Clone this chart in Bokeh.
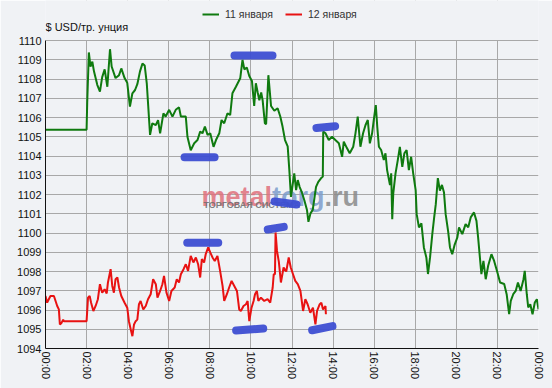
from bokeh.plotting import figure
from bokeh.models import (Range1d, FixedTicker, Legend, LegendItem, Label,
                          ColumnDataSource, BoxAnnotation)
from bokeh.embed import file_html
from bokeh.resources import INLINE

# ---- data -------------------------------------------------------------
series_names = ["11 января", "12 января"]
y_title = "$ USD/тр. унция"
x_ticks = [0, 2, 4, 6, 8, 10, 12, 14, 16, 18, 20, 22, 24]
x_tick_labels = ["00:00", "02:00", "04:00", "06:00", "08:00", "10:00", "12:00",
                 "14:00", "16:00", "18:00", "20:00", "22:00", "00:00"]
y_ticks = list(range(1094, 1111))

jan11_time = [0, 2.0, 2.03, 2.11, 2.19, 2.28, 2.36, 2.52, 2.65, 2.76, 2.88, 3.01, 3.14, 3.22,
              3.41, 3.58, 3.69, 3.85, 3.98, 4.11, 4.23, 4.36, 4.47, 4.6, 4.72, 4.83, 4.93,
              5.09, 5.2, 5.37, 5.48, 5.58, 5.74, 5.85, 6.02, 6.18, 6.34, 6.5, 6.59, 6.83,
              6.91, 7.07, 7.24, 7.4, 7.53, 7.64, 7.76, 7.89, 8.02, 8.18, 8.3, 8.46, 8.57,
              8.7, 8.86, 8.99, 9.1, 9.27, 9.48, 9.59, 9.68, 9.8, 9.92, 10.05, 10.16, 10.24,
              10.33, 10.41, 10.5, 10.57, 10.68, 10.74, 10.85, 10.98, 11.14, 11.3, 11.43,
              11.54, 11.66, 11.79, 11.87, 11.95, 12.03, 12.11, 12.2, 12.28, 12.37, 12.47,
              12.6, 12.73, 12.8, 12.9, 13.01, 13.09, 13.17, 13.28, 13.41, 13.5, 13.52,
              13.63, 13.79, 13.95, 14.11, 14.28, 14.44, 14.52, 14.68, 14.81, 14.98, 15.09,
              15.2, 15.33, 15.46, 15.58, 15.69, 15.79, 15.9, 15.98, 16.08, 16.15, 16.23,
              16.34, 16.47, 16.55, 16.63, 16.77, 16.83, 16.88, 16.93, 17.04, 17.15, 17.25,
              17.37, 17.47, 17.58, 17.69, 17.8, 17.9, 18.02, 18.07, 18.18, 18.3, 18.42,
              18.54, 18.62, 18.72, 18.83, 18.92, 19.0, 19.1, 19.2, 19.3, 19.4, 19.48,
              19.6, 19.69, 19.8, 19.92, 20.05, 20.13, 20.29, 20.45, 20.58, 20.7, 20.86,
              20.98, 21.06, 21.14, 21.22, 21.32, 21.43, 21.55, 21.71, 21.84, 22.0, 22.13,
              22.33, 22.45, 22.57, 22.65, 22.77, 22.89, 23.0, 23.13, 23.27, 23.33, 23.43,
              23.5, 23.6, 23.71, 23.82, 23.92, 24.0]
jan11_price = [1105.37, 1105.37, 1106.74, 1109.38, 1108.65, 1108.9, 1108.4, 1107.7, 1107.35,
               1108.1, 1108.5, 1107.6, 1109.55, 1108.65, 1108.05, 1108.2, 1108.55, 1108.05,
               1107.8, 1106.57, 1107.26, 1107.43, 1107.73, 1108.4, 1108.8, 1108.7, 1107.78,
               1105.1, 1105.7, 1105.6, 1105.87, 1105.18, 1106.22, 1106.05, 1106.4, 1106.05,
               1106.4, 1106.53, 1106.05, 1106.05, 1105.0, 1104.3, 1104.66, 1104.83, 1105.27,
               1105.18, 1105.53, 1105.1, 1105.18, 1104.48, 1104.83, 1105.18, 1105.87, 1105.7,
               1106.22, 1106.13, 1107.26, 1107.6, 1108.04, 1109.0, 1108.5, 1108.6, 1108.16,
               1107.9, 1106.6, 1107.78, 1107.3, 1106.9, 1107.3, 1106.9, 1105.7, 1105.65,
               1108.2, 1106.6, 1106.35, 1106.48, 1106.05, 1105.53, 1104.83, 1104.5, 1103.27,
               1101.88, 1102.5, 1103.1, 1102.23, 1102.75, 1102.4, 1102.14, 1101.7, 1101.19,
               1100.58, 1101.02, 1101.2, 1101.8, 1102.4, 1102.66, 1102.84, 1102.93, 1105.27,
               1105.18, 1104.83, 1105.0, 1104.83, 1104.66, 1103.96, 1104.75, 1104.4, 1104.14,
               1104.48, 1105.18, 1106.05, 1104.48, 1105.18, 1105.61, 1105.87, 1104.66,
               1105.18, 1105.87, 1106.65, 1105.53, 1104.48, 1104.31, 1103.79, 1104.14,
               1103.27, 1102.49, 1103.1, 1100.72, 1102.06, 1103.1, 1103.79, 1104.48, 1103.44,
               1104.14, 1104.31, 1103.27, 1103.96, 1103.1, 1102.23, 1100.98, 1100.29, 1100.5,
               1099.25, 1098.73, 1097.87, 1098.73, 1099.94, 1100.8, 1101.5, 1102.85, 1102.2,
               1102.5, 1102.1, 1100.98, 1100.1, 1099.25, 1098.9, 1099.4, 1099.77, 1100.29,
               1099.94, 1100.46, 1100.3, 1100.81, 1101.07, 1100.63, 1099.77, 1098.81,
               1097.86, 1098.55, 1097.6, 1098.3, 1098.9, 1098.55, 1097.95, 1097.43, 1097.35,
               1096.82, 1095.78, 1096.47, 1096.82, 1096.99, 1097.43, 1096.99, 1097.6,
               1098.03, 1096.82, 1096.13, 1096.3, 1095.78, 1096.39, 1096.56, 1096.04]

jan12_time = [0, 0.08, 0.16, 0.24, 0.41, 0.49, 0.57, 0.65, 0.7, 0.78, 0.86, 0.89, 2.0, 2.07,
              2.15, 2.22, 2.33, 2.44, 2.55, 2.65, 2.76, 2.88, 2.98, 3.04, 3.17, 3.25, 3.33,
              3.41, 3.5, 3.58, 3.69, 3.85, 3.98, 4.06, 4.15, 4.23, 4.31, 4.39, 4.47, 4.55,
              4.63, 4.76, 4.88, 4.99, 5.12, 5.24, 5.37, 5.45, 5.58, 5.69, 5.77, 5.89, 6.02,
              6.13, 6.29, 6.39, 6.5, 6.59, 6.72, 6.83, 6.94, 7.07, 7.2, 7.32, 7.43, 7.53,
              7.61, 7.72, 7.8, 7.92, 8.02, 8.13, 8.24, 8.37, 8.5, 8.62, 8.7, 8.83, 8.94,
              9.06, 9.19, 9.32, 9.43, 9.51, 9.64, 9.76, 9.84, 9.92, 10.03, 10.13, 10.2,
              10.29, 10.36, 10.49, 10.65, 10.81, 10.94, 11.06, 11.11, 11.17, 11.2, 11.27,
              11.36, 11.46, 11.59, 11.72, 11.84, 11.94, 12.05, 12.16, 12.28, 12.41, 12.54,
              12.65, 12.76, 12.89, 13.02, 13.14, 13.22, 13.35, 13.43, 13.51, 13.63, 13.65]
jan12_price = [1096.73, 1096.38, 1096.56, 1096.73, 1096.73, 1096.47, 1096.21, 1096.03,
               1095.25, 1095.33, 1095.5, 1095.42, 1095.42, 1096.64, 1096.73, 1096.38,
               1095.95, 1096.21, 1096.56, 1097.34, 1096.9, 1097.08, 1096.86, 1097.43,
               1098.12, 1097.25, 1096.9, 1097.6, 1097.69, 1097.17, 1096.73, 1096.38,
               1096.12, 1095.42, 1094.99, 1094.64, 1095.25, 1095.42, 1095.5, 1096.3,
               1096.47, 1096.03, 1096.21, 1096.56, 1096.82, 1097.6, 1097.34, 1096.64,
               1096.99, 1097.34, 1097.77, 1096.9, 1096.47, 1096.99, 1097.17, 1097.6,
               1097.43, 1097.86, 1098.12, 1098.38, 1098.03, 1098.81, 1098.47, 1098.73,
               1098.38, 1097.69, 1098.64, 1098.47, 1098.9, 1099.25, 1098.99, 1098.73,
               1098.55, 1098.81, 1098.03, 1097.25, 1096.47, 1096.82, 1097.17, 1097.51,
               1097.25, 1096.99, 1096.03, 1095.95, 1096.21, 1096.3, 1096.47, 1095.42,
               1096.12, 1096.47, 1096.82, 1096.99, 1096.47, 1096.64, 1096.47, 1096.56,
               1096.38, 1097.17, 1097.86, 1097.86, 1100.03, 1099.07, 1098.5, 1097.43,
               1098.21, 1098.0, 1098.73, 1098.21, 1097.86, 1097.51, 1097.34, 1096.99,
               1095.95, 1096.56, 1096.3, 1095.86, 1096.12, 1095.25, 1095.95, 1096.3,
               1096.38, 1096.03, 1096.21, 1095.78]

# hand-drawn blue marker strokes (start time, start level, end time, end level)
mark_t0 = [6.77, 9.20, 13.19, 10.82, 11.15, 6.90, 9.28, 12.98]
mark_v0 = [1103.94, 1109.22, 1105.46, 1100.18, 1101.64, 1099.49, 1094.94, 1094.95]
mark_t1 = [8.23, 11.05, 14.10, 11.60, 12.22, 8.41, 10.60, 13.97]
mark_v1 = [1103.94, 1109.22, 1105.55, 1100.32, 1101.48, 1099.49, 1095.04, 1095.16]

# ---- figure -------------------------------------------------------------
BG = "#f0f2f5"
FONT = "Liberation Sans"
Y_MIN, Y_MAX = 1094, 1110
FRAME_TOP = 1112.08   # headroom inside the frame for legend and caption

p = figure(width=552, height=388, output_backend="svg", toolbar_location=None,
           x_range=Range1d(0, 24), y_range=Range1d(Y_MIN, FRAME_TOP),
           min_border_left=45, min_border_right=14, min_border_top=0,
           min_border_bottom=40)
p.background_fill_color = BG
p.border_fill_color = BG
p.outline_line_color = None

p.xaxis.ticker = FixedTicker(ticks=x_ticks)
p.xaxis.major_label_overrides = {t: l for t, l in zip(x_ticks, x_tick_labels)}
p.xaxis.major_label_orientation = "vertical"
p.yaxis.ticker = FixedTicker(ticks=y_ticks)
p.yaxis.bounds = (Y_MIN, Y_MAX)
for ax in (p.xaxis, p.yaxis):
    ax.axis_line_color = "#111111"
    ax.major_tick_line_color = None
    ax.minor_tick_line_color = None
    ax.major_tick_out = 0
    ax.major_tick_in = 0
    ax.major_label_text_font = FONT
    ax.major_label_text_font_size = "11px"
    ax.major_label_text_color = "#111111"
p.xaxis.major_label_standoff = 3
p.yaxis.major_label_standoff = 4
p.xgrid.ticker = FixedTicker(ticks=x_ticks)
p.ygrid.ticker = FixedTicker(ticks=y_ticks)
for g in (p.xgrid, p.ygrid):
    g.grid_line_color = "#a8a8a8"
    g.grid_line_width = 1

# hide grid above the plotting area (headroom)
p.add_layout(BoxAnnotation(bottom=Y_MAX + 0.03, fill_color=BG, fill_alpha=1,
                           line_color=None, level="underlay"))

# watermark
wm = [("metal", 7.595, "#e0707c"), ("torg", 11.03, "#7c9ccc"), (".ru", 13.58, "#8a8a8a")]
for txt, xx, col in wm:
    lab = Label(x=xx, y=1101.88, text=txt, text_font=FONT, text_font_size="27px",
                text_font_style="bold", text_color=col, text_alpha=0.85,
                text_baseline="alphabetic", level="underlay")
    p.add_layout(lab)
p.add_layout(Label(x=7.69, y=1101.43, text="ТОРГОВАЯ СИСТЕМА", text_font=FONT,
                   text_font_size="9px", text_font_style="bold", text_color="#707070",
                   text_alpha=0.9, text_baseline="alphabetic", level="underlay"))

src11 = ColumnDataSource(dict(t=jan11_time, v=jan11_price))
src12 = ColumnDataSource(dict(t=jan12_time, v=jan12_price))
r11 = p.line("t", "v", source=src11, line_color="#0f7a0f", line_width=2)
r12 = p.line("t", "v", source=src12, line_color="#e81212", line_width=2)

p.segment(x0=mark_t0, y0=mark_v0, x1=mark_t1, y1=mark_v1, line_color="#3d4ed2",
          line_width=8, line_cap="round", line_alpha=0.95)

# y caption
p.add_layout(Label(x=0, y=322, x_units="screen", y_units="screen", text=y_title,
                   text_font=FONT, text_font_size="11px", text_color="#111111",
                   text_baseline="middle"))

legend = Legend(items=[LegendItem(label=series_names[0], renderers=[r11]),
                       LegendItem(label=series_names[1], renderers=[r12])],
                orientation="horizontal", location=(157, 328),
                glyph_width=17, glyph_height=10, label_standoff=6, spacing=12,
                padding=0, margin=0, label_height=12,
                label_text_font=FONT, label_text_font_size="10.5px",
                label_text_color="#333333", background_fill_alpha=0,
                border_line_color=None)
p.add_layout(legend)

open("out.html", "w").write(file_html(p, INLINE))
